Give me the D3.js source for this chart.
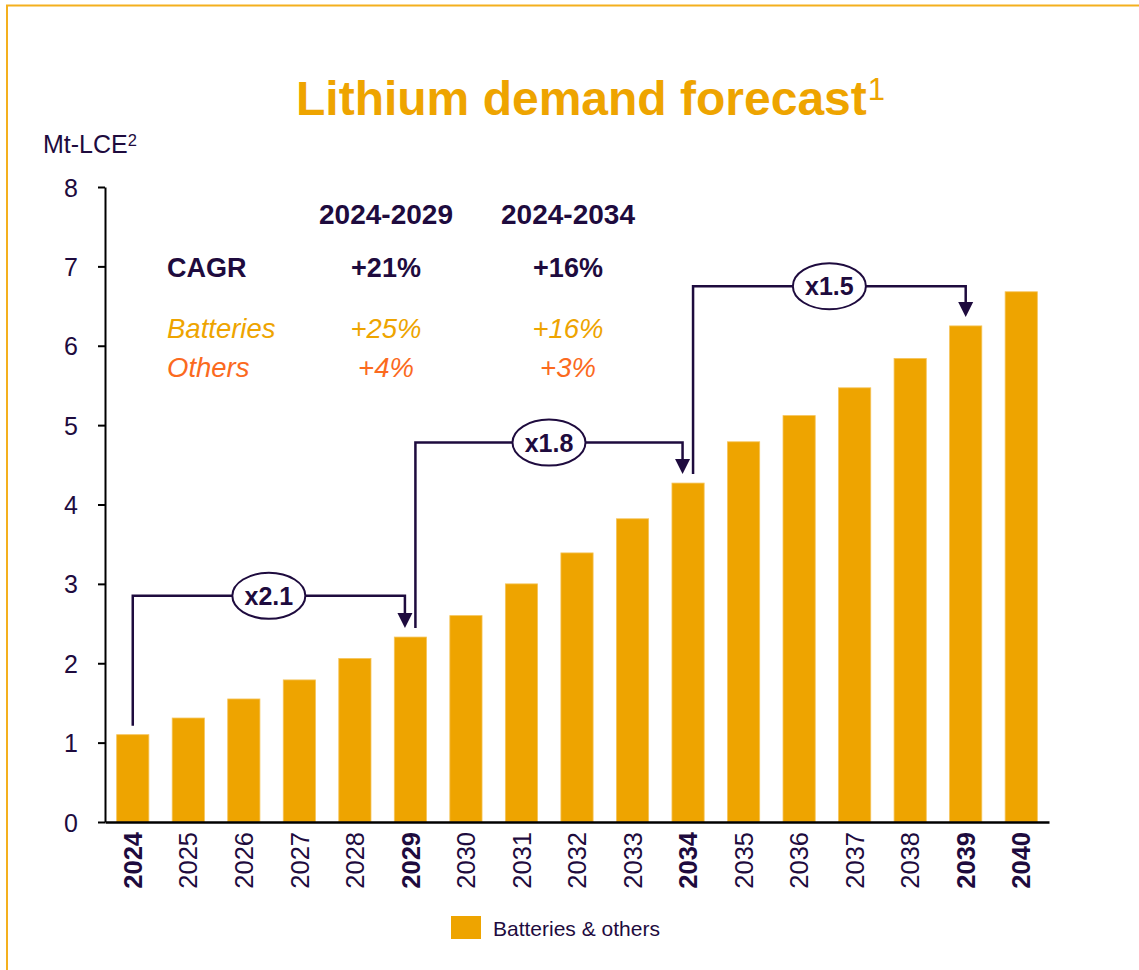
<!DOCTYPE html>
<html>
<head>
<meta charset="utf-8">
<script src="https://cdn.jsdelivr.net/npm/d3@7"></script>
<style>
  html, body { margin: 0; padding: 0; background: #ffffff; }
  svg { display: block; font-family: "Liberation Sans", Arial, sans-serif; }
</style>
</head>
<body>
<svg id="chart" width="1139" height="970"></svg>
<script>
// ---------- data ----------
const years = ["2024","2025","2026","2027","2028","2029","2030","2031","2032","2033","2034","2035","2036","2037","2038","2039","2040"];
const demand = [1.10, 1.31, 1.55, 1.79, 2.06, 2.33, 2.60, 3.00, 3.39, 3.82, 4.27, 4.79, 5.12, 5.47, 5.84, 6.25, 6.68];
const boldYears = ["2024","2029","2034","2039","2040"];
const yTicks = [0, 1, 2, 3, 4, 5, 6, 7, 8];
const bracketFrom = ["2024","2029","2034"];
const bracketTo = ["2029","2034","2039"];
const bracketLabels = ["x2.1","x1.8","x1.5"];
const bracketLevels = [2.85, 4.78, 6.75];
const cagrPeriods = ["2024-2029","2024-2034"];
const cagrRowLabels = ["CAGR","Batteries","Others"];
const cagrTotal = ["+21%","+16%"];
const cagrBatteries = ["+25%","+16%"];
const cagrOthers = ["+4%","+3%"];
const seriesName = "Batteries & others";
const titleText = "Lithium demand forecast";
const unitText = "Mt-LCE";

// ---------- style ----------
const dark = "#1e0b3e";
const gold = "#eea400";
const orangeRed = "#fb6a1e";
const frameColor = "#f4b01e";

const svg = d3.select("#chart");

// frame
svg.append("rect").attr("x", 7).attr("y", 5.5).attr("width", 1200).attr("height", 1000)
  .attr("fill", "none").attr("stroke", frameColor).attr("stroke-width", 2);

// scales
const x = d3.scaleBand().domain(years).range([105, 1049]).paddingInner(0.42).paddingOuter(0.21);
const y = d3.scaleLinear().domain([0, 8]).range([822, 187]);

// title
const title = svg.append("text").attr("x", 296).attr("y", 115)
  .attr("fill", gold).attr("font-size", 48).attr("font-weight", "bold");
title.append("tspan").text(titleText);
title.append("tspan").attr("font-size", 31).attr("font-weight", "normal").attr("dx", 1).attr("dy", -15).text("1");

// unit label
const unit = svg.append("text").attr("x", 43).attr("y", 153).attr("fill", dark).attr("font-size", 25);
unit.append("tspan").text(unitText);
unit.append("tspan").attr("font-size", 16.5).attr("dy", -7).attr("dx", 0).text("2");

// bars
svg.append("g").selectAll("rect").data(years).join("rect")
  .attr("x", d => x(d))
  .attr("width", x.bandwidth())
  .attr("y", (d, i) => y(demand[i]))
  .attr("height", (d, i) => y(0) - y(demand[i]))
  .attr("fill", gold)
  .attr("stroke", "#f5c45a").attr("stroke-width", 0.8);

// y axis
const yAxis = svg.append("g").attr("transform", "translate(105,0)")
  .call(d3.axisLeft(y).tickValues(yTicks).tickSize(7).tickSizeOuter(0).tickPadding(20).tickFormat(d3.format("d")));
yAxis.select(".domain").attr("stroke", "#000").attr("stroke-width", 2);
yAxis.selectAll(".tick line").attr("stroke", "#000").attr("stroke-width", 2);
yAxis.selectAll(".tick text").attr("fill", dark).attr("font-size", 25)
  .attr("font-family", "'Liberation Sans', Arial, sans-serif").attr("dy", "0.36em");

// x axis
const xAxis = svg.append("g").attr("transform", "translate(0,822)")
  .call(d3.axisBottom(x).tickSize(0).tickSizeOuter(0).tickPadding(0));
xAxis.select(".domain").attr("stroke", "#000").attr("stroke-width", 2.5);
xAxis.selectAll(".tick text")
  .attr("transform", "rotate(-90)")
  .attr("text-anchor", "end")
  .attr("x", -10).attr("y", 0).attr("dy", "0.36em")
  .attr("fill", dark).attr("font-size", 25.5)
  .attr("font-family", "'Liberation Sans', Arial, sans-serif")
  .attr("font-weight", d => boldYears.includes(d) ? "bold" : "normal");

// brackets
const ann = svg.append("g");
const gap = 9, headH = 15, headW = 15;
bracketFrom.forEach((from, i) => {
  const to = bracketTo[i];
  const startShared = bracketTo.includes(from);
  const endShared = bracketFrom.includes(to);
  const x0 = x(from) + x.bandwidth() / 2 + (startShared ? 5 : 0);
  const x1 = x(to) + x.bandwidth() / 2 - (endShared ? 5.5 : 0);
  const yStart = y(demand[years.indexOf(from)]) - gap;
  const yTip = y(demand[years.indexOf(to)]) - gap;
  const yl = y(bracketLevels[i]);
  ann.append("path")
    .attr("d", `M${x0},${yStart}V${yl}H${x1}V${yTip - headH + 1}`)
    .attr("fill", "none").attr("stroke", dark).attr("stroke-width", 2.5);
  ann.append("path")
    .attr("d", `M${x1 - headW / 2},${yTip - headH}L${x1 + headW / 2},${yTip - headH}L${x1},${yTip}Z`)
    .attr("fill", dark);
  const cx = (x0 + x1) / 2;
  ann.append("ellipse").attr("cx", cx).attr("cy", yl).attr("rx", 36.5).attr("ry", 23)
    .attr("fill", "#fff").attr("stroke", dark).attr("stroke-width", 2);
  ann.append("text").attr("x", cx).attr("y", yl + 9).attr("text-anchor", "middle")
    .attr("fill", dark).attr("font-size", 25).attr("font-weight", "bold").text(bracketLabels[i]);
});

// CAGR table
const tbl = svg.append("g");
const colX = [386, 568];
const rowY = [224, 277, 338, 377];
cagrPeriods.forEach((p, j) => {
  tbl.append("text").attr("x", colX[j]).attr("y", rowY[0]).attr("text-anchor", "middle")
    .attr("fill", dark).attr("font-size", 28).attr("font-weight", "bold").text(p);
});
const rowValues = [cagrTotal, cagrBatteries, cagrOthers];
const rowColors = [dark, gold, orangeRed];
const rowBold = [true, false, false];
const rowItalic = [false, true, true];
cagrRowLabels.forEach((lab, r) => {
  const common = s => s.attr("fill", rowColors[r]).attr("font-size", rowBold[r] ? 27 : 27.5)
    .attr("font-weight", rowBold[r] ? "bold" : "normal")
    .attr("font-style", rowItalic[r] ? "italic" : "normal");
  tbl.append("text").attr("x", 167).attr("y", rowY[r + 1]).call(common).text(lab);
  rowValues[r].forEach((v, j) => {
    tbl.append("text").attr("x", colX[j]).attr("y", rowY[r + 1]).attr("text-anchor", "middle").call(common).text(v);
  });
});

// legend
svg.append("rect").attr("x", 451).attr("y", 916).attr("width", 30).attr("height", 23).attr("fill", gold);
svg.append("text").attr("x", 493).attr("y", 936).attr("fill", dark).attr("font-size", 21).text(seriesName);
</script>
</body>
</html>
